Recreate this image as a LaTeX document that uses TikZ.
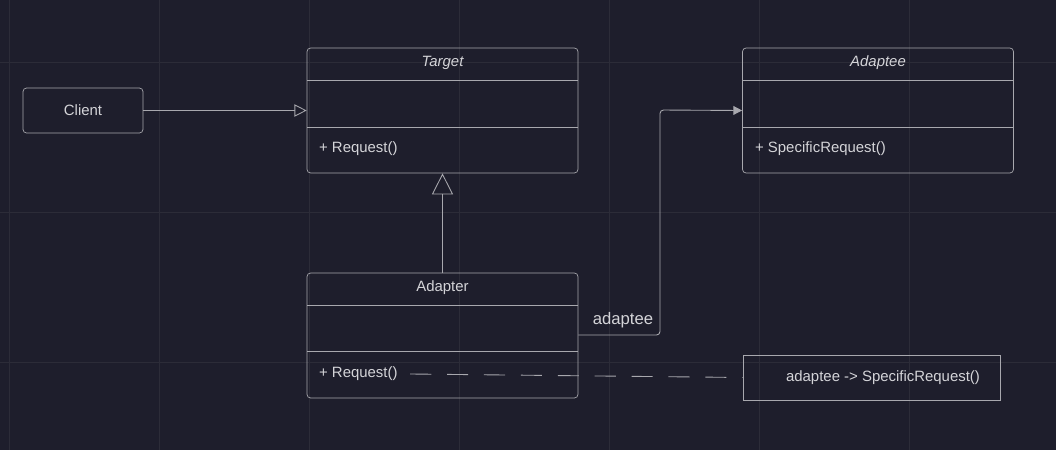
\documentclass[tikz,border=0pt]{standalone}
\usepackage{fontspec}
\setmainfont{Liberation Sans}
\usetikzlibrary{arrows.meta,positioning,shapes.misc}
\definecolor{bgcolor}{HTML}{1E1E2C}
\definecolor{gridcolor}{HTML}{2C2C38}
\definecolor{linecolor}{HTML}{A8A8AE}
\definecolor{textcolor}{HTML}{D4D4D8}
\tikzset{
  box/.style={draw=linecolor, rounded corners=2pt, minimum width=5.42cm, minimum height=2.5cm, inner sep=0pt},
  txt/.style={text=textcolor, font=\fontsize{8.5}{10}\selectfont, inner sep=1pt},
  link/.style={draw=linecolor, line width=0.5pt}
}
\begin{document}
\begin{tikzpicture}[x=0.02cm, y=-0.02cm]
\fill[bgcolor] (0,0) rectangle (1056,450);
\useasboundingbox (0,0) rectangle (1056,450);
% grid
\foreach \gx in {9,159,...,1059} \draw[gridcolor] (\gx,0) -- (\gx,450);
\foreach \gy in {62,212,362} \draw[gridcolor] (0,\gy) -- (1056,\gy);
%client
\node[box, minimum width=2.4cm, minimum height=0.9cm] (client) at (83,110.5) {};
\node[txt] at (client) {Client};
%target
\node[box] (target) at (442.5,110.5) {};
\draw[linecolor] (307,80) -- (578,80) (307,127) -- (578,127);
\node[txt, font=\fontsize{8.5}{10}\selectfont\itshape] at (442.5,63) {Target};
\node[txt, anchor=west] at (317,149) {+ Request()};
%adaptee
\node[box] (adaptee) at (878,110.5) {};
\draw[linecolor] (743,80) -- (1013,80) (743,127) -- (1013,127);
\node[txt, font=\fontsize{8.5}{10}\selectfont\itshape] at (878,63) {Adaptee};
\node[txt, anchor=west] at (753,149) {+ SpecificRequest()};
%adapter
\node[box] (adapter) at (442.5,335.5) {};
\draw[linecolor] (307,305) -- (578,305) (307,351) -- (578,351);
\node[txt] at (442.5,288) {Adapter};
\node[txt, anchor=west] (req) at (317,374) {+ Request()};
%note
\node[draw=linecolor, minimum width=5.14cm, minimum height=0.9cm, inner sep=0pt,
      chamfered rectangle, chamfered rectangle corners=north east, chamfered rectangle xsep=4pt, chamfered rectangle ysep=4pt] (note) at (871.5,377.5) {};
\node[txt] at (883,378) {adaptee -> SpecificRequest()};
\coordinate (bend) at (660,335);
\coordinate (top) at (660,110);
% connectors
\draw[link, -{Triangle[open, length=7pt, width=7pt]}] (client.east) -- (target.west);
\draw[link, -{Triangle[open, length=12pt, width=12pt]}] (adapter.north) -- (target.south);
\draw[link, rounded corners=2pt, -{Triangle[length=5pt, width=5pt, fill=linecolor]}] (adapter.east |- bend) -- (bend) -- (top) -- (adaptee.west);
\node[txt, font=\fontsize{9.5}{11}\selectfont] at (623,320) {adaptee};
\draw[link, dash pattern=on 12pt off 9pt] (req.east) ++(6pt,0) -- (note.west);
\end{tikzpicture}
\end{document}
